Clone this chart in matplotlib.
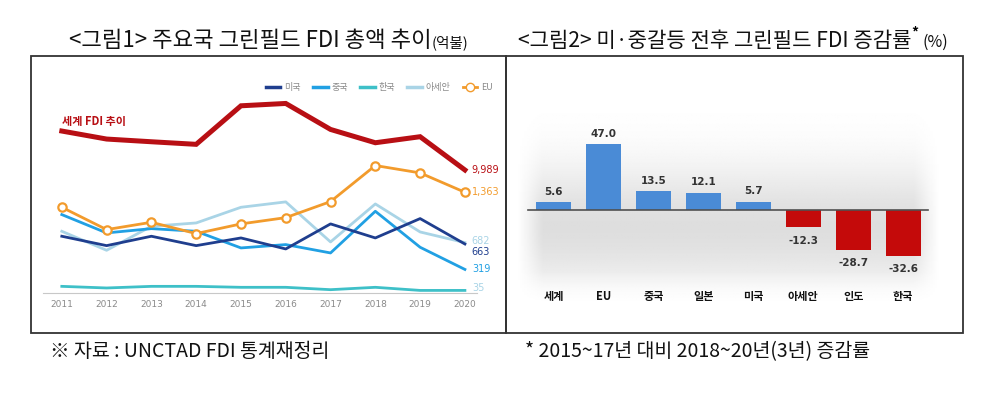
import numpy as np
import matplotlib.pyplot as plt
from matplotlib.patches import Rectangle
from matplotlib.lines import Line2D

plt.rcParams['font.family'] = ['Noto Sans CJK KR', 'DejaVu Sans']

# ---- data: figure 1 (greenfield FDI, 100 million USD) ----
years = [2011, 2012, 2013, 2014, 2015, 2016, 2017, 2018, 2019, 2020]
world = [13150, 12500, 12280, 12070, 15200, 15390, 13280, 12200, 12690, 9989]
usa = [768, 641, 768, 641, 745, 596, 935, 745, 1007, 663]
china = [1061, 813, 871, 835, 610, 655, 542, 1106, 619, 319]
korea = [90, 68, 90, 90, 77, 77, 45, 77, 35, 35]
asean = [835, 578, 903, 948, 1160, 1233, 691, 1205, 826, 682]
eu = [1160, 858, 957, 804, 935, 1020, 1237, 1725, 1625, 1363]

# ---- data: figure 2 (change rate, %) ----
regions = ['세계', 'EU', '중국', '일본', '미국', '아세안', '인도', '한국']
rates = [5.6, 47.0, 13.5, 12.1, 5.7, -12.3, -28.7, -32.6]

W, H = 994, 401
fig = plt.figure(figsize=(W / 100, H / 100), dpi=100)


def fx(px):
    return px / W


def fy(py):
    return 1 - py / H


# frames
for x0, x1 in [(31, 506), (506, 963)]:
    fig.add_artist(Rectangle((fx(x0), fy(333)), fx(x1 - x0), (333 - 56) / H,
                             transform=fig.transFigure, fill=False,
                             edgecolor='#333333', linewidth=1.3))

# ---------------- left chart ----------------
ax1 = fig.add_axes([fx(43), fy(293), fx(434), 218 / H])
ax1w = ax1.twinx()
col_us, col_cn, col_kr, col_as, col_eu = '#1f3e8e', '#21a0e3', '#3ec0c8', '#a9d4e6', '#f29b2c'
col_w = '#b80f14'

ax1.plot(years, korea, color=col_kr, lw=2, zorder=2)
ax1.plot(years, asean, color=col_as, lw=2, zorder=2)
ax1.plot(years, china, color=col_cn, lw=2, zorder=3)
ax1.plot(years, usa, color=col_us, lw=2, zorder=3)
ax1.plot(years, eu, color=col_eu, lw=2, marker='o', ms=6, mfc='white',
         mec=col_eu, mew=1.6, zorder=4)
ax1w.plot(years, world, color=col_w, lw=3.6, solid_joinstyle='miter')

ax1.set_xlim(2010.58, 2020.27)
ax1.set_ylim(0, 2950)
ax1w.set_ylim(0, 2950 * 6.0)
for a in (ax1, ax1w):
    a.set_yticks([])
    for s in a.spines.values():
        s.set_visible(False)
ax1.spines['bottom'].set_visible(True)
ax1.spines['bottom'].set_color('#c8c8c8')
ax1.set_xticks(years)
ax1.set_xticklabels([str(y) for y in years], color='#8a8a8a', fontsize=6.5,
                    family='DejaVu Sans')
ax1.tick_params(axis='x', length=0, pad=5)

ax1w.text(2011, 13965, '세계 FDI 추이', color=col_w, fontsize=8, fontweight='bold',
          va='center')
ends = [(world[-1], '9,989', col_w, ax1w), (eu[-1], '1,363', col_eu, ax1),
        (asean[-1], '682', col_as, ax1), (usa[-1], '663', col_us, ax1),
        (china[-1], '319', col_cn, ax1), (korea[-1], '35', col_as, ax1)]
ends_offsets = [0, 0, 1.5, -6, 0, 1.5]
for (v, t, c, a), off in zip(ends, ends_offsets):
    a.annotate(t, (years[-1], v), xytext=(5, off), textcoords='offset points',
               color=c, fontsize=7, va='center', family='DejaVu Sans')

handles = [Line2D([], [], color=col_us, lw=2.5), Line2D([], [], color=col_cn, lw=2.5),
           Line2D([], [], color=col_kr, lw=2.5), Line2D([], [], color=col_as, lw=2.5),
           Line2D([], [], color=col_eu, lw=2, marker='o', mfc='white', mec=col_eu, ms=6)]
leg = ax1.legend(handles, ['미국', '중국', '한국', '아세안', 'EU'], ncol=5,
                 loc='upper right', bbox_to_anchor=(1.055, 1.0), frameon=False,
                 fontsize=6.5, handlelength=1.6, columnspacing=1.4, handletextpad=0.4)
for t in leg.get_texts():
    t.set_color('#8a8a8a')

# ---------------- right chart ----------------
ax2 = fig.add_axes([fx(517), fy(305), fx(423), 218 / H])
ax2.set_xlim(-0.74, 7.74)
ax2.set_ylim(-68, 88)
# soft grey gradient background
yy = np.linspace(0, 1, 200)[:, None]
xx = np.linspace(0, 1, 200)[None, :]
vert = np.exp(-((yy - 0.36) / 0.28) ** 2) * np.clip(yy / 0.15, 0, 1)
horiz = np.clip(np.minimum(xx, 1 - xx) / 0.06, 0, 1)
shade = 1 - 0.13 * vert * horiz
ax2.imshow(shade, cmap='gray', vmin=0, vmax=1, extent=[-0.74, 7.74, -68, 88],
           aspect='auto', origin='lower', zorder=0)

colors = ['#4a8bd6' if r >= 0 else '#c40a0a' for r in rates]
x = np.arange(len(regions))
ax2.bar(x, rates, width=0.7, color=colors, zorder=2)
ax2.plot([-0.52, 7.5], [0, 0], color='#505050', lw=1.2, zorder=3)
for xi, r in zip(x, rates):
    if r >= 0:
        ax2.text(xi, r + 4, f'{r:.1f}', ha='center', va='bottom', fontsize=7.5,
                 fontweight='bold', color='#333333', family='DejaVu Sans')
    else:
        ax2.text(xi, r - 6, f'{r:.1f}', ha='center', va='top', fontsize=7.5,
                 fontweight='bold', color='#333333', family='DejaVu Sans')
    ax2.text(xi, -62, regions[xi], ha='center', va='center', fontsize=8,
             fontweight='bold', color='#111111')
ax2.axis('off')

# ---------------- titles and notes ----------------
fig.canvas.draw()
r = fig.canvas.get_renderer()


def two_part(x, y, main, small, size_main, size_small, sup=None):
    t = fig.text(fx(x), fy(y), main, fontsize=size_main, va='baseline', color='#111111')
    bb = t.get_window_extent(r)
    xe = bb.x1 / W
    if sup:
        s = fig.text(xe, fy(y - 10), sup, fontsize=10, fontweight='bold', va='baseline')
        xe = s.get_window_extent(r).x1 / W + 0.004
    fig.text(xe, fy(y), small, fontsize=size_small, va='baseline', color='#111111')


two_part(69, 47, '<그림1> 주요국 그린필드 FDI 총액 추이', '(억불)', 16, 10.5)
two_part(518, 47, '<그림2> 미·중갈등 전후 그린필드 FDI 증감률', '(%)', 15.2, 11.5, sup='*')

fig.text(fx(50), fy(357), '※ 자료 : UNCTAD FDI 통계재정리', fontsize=14, va='baseline',
         color='#111111')
fig.text(fx(525), fy(357), '* 2015~17년 대비 2018~20년(3년) 증감률', fontsize=14,
         va='baseline', color='#111111')

fig.savefig('out.png', dpi=100)
